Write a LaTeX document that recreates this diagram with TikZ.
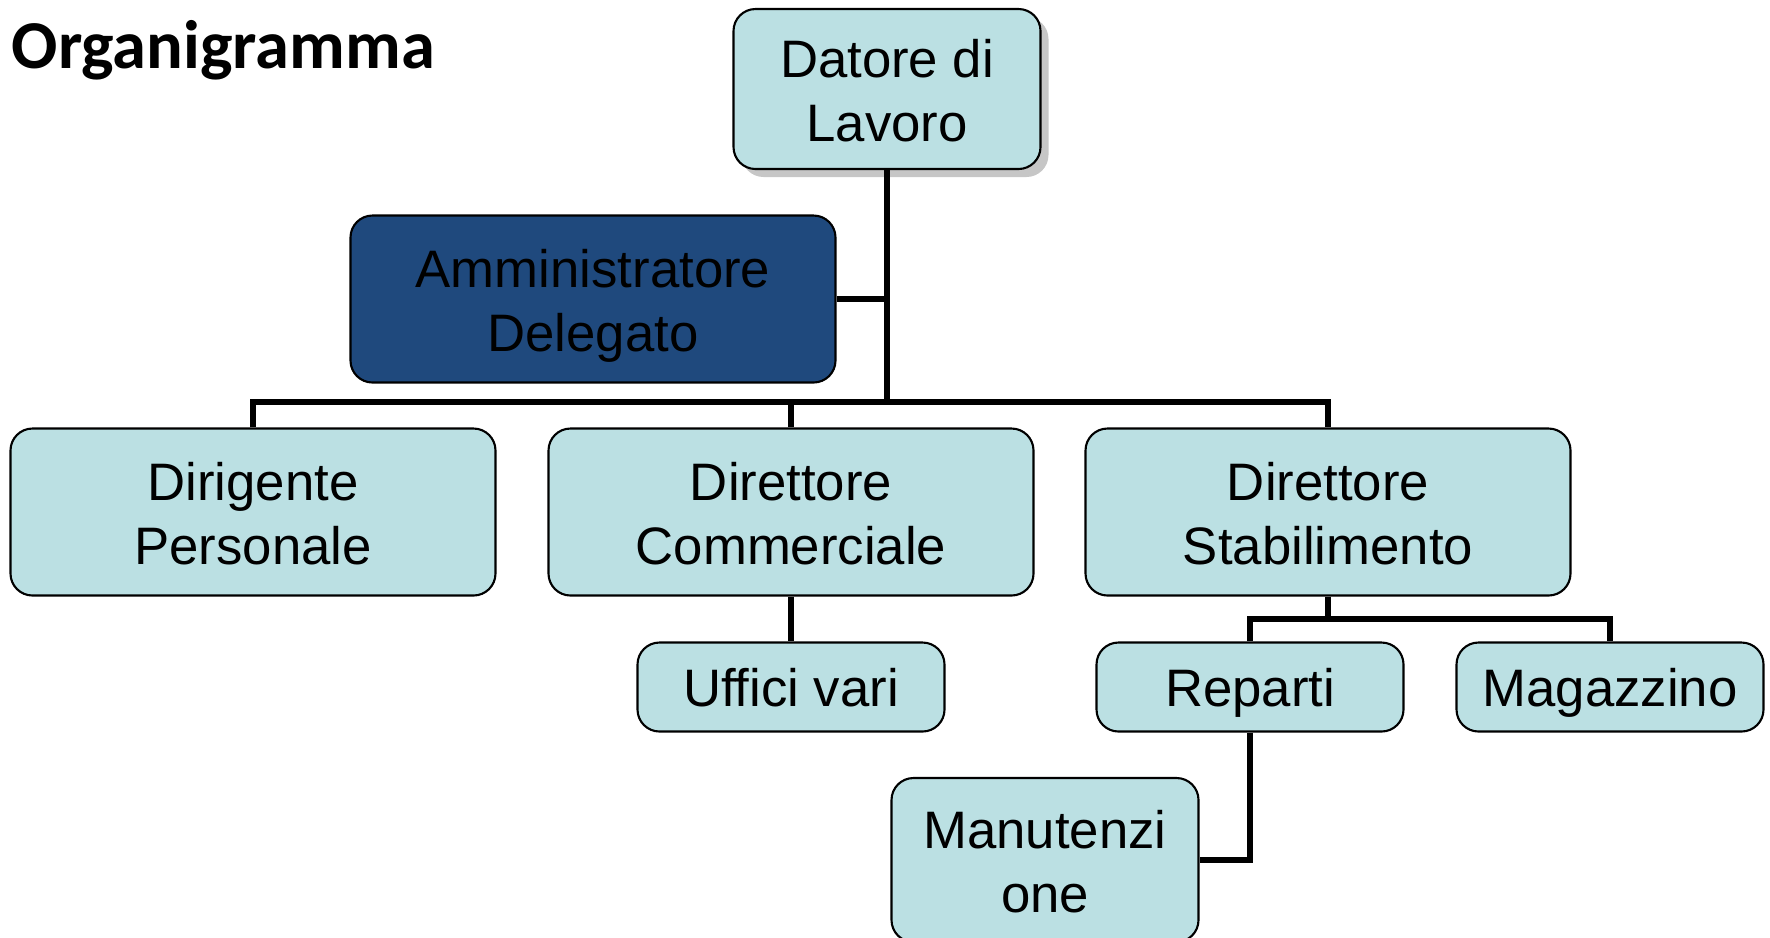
\documentclass[tikz,border=0pt]{standalone}
\usepackage{fontspec}
\setmainfont{Liberation Sans}
\newfontfamily\titlefont{Carlito}
\usepackage{tikz}
\usetikzlibrary{positioning,shadows}
\usepackage{xcolor}
\definecolor{BoxTeal}{HTML}{BBE0E3}
\definecolor{BoxNavy}{HTML}{1F497D}
\definecolor{LineBlack}{HTML}{000000}

\begin{document}
\begin{tikzpicture}[
        box/.style={draw=LineBlack,line width=0.6pt,rounded corners=2.2mm,fill=BoxTeal,
                    minimum height=1.67cm,minimum width=4.85cm,align=center,
                    inner sep=0pt,text height=1.04cm,text depth=0cm,
                    font=\fontsize{15}{18.2}\selectfont},
        tallbox/.style={box,minimum width=3.07cm,minimum height=1.6cm},
        smallbox/.style={box,minimum width=3.07cm,minimum height=0.89cm,text height=0.39cm},
        navy/.style={box,fill=BoxNavy},
        link/.style={draw=LineBlack,line width=1.8pt}]
      \useasboundingbox (0,0) rectangle (17.70,-9.37);
      \node[anchor=base west,inner sep=0pt,font=\titlefont\bfseries\fontsize{19.5}{22}\selectfont]
            (title) at (0.11,-0.68) {Organigramma};
      % top of the chart
      \node[tallbox,drop shadow={opacity=0.45,shadow xshift=0.08cm,shadow yshift=-0.08cm}]
            (datore) at (8.87,-0.89) {Datore di\\Lavoro};
      \node[navy] (amm) at (5.93,-2.99) {Amministratore\\Delegato};
      % second level
      \node[box] (dirigente)   at ( 2.53,-5.12) {Dirigente\\Personale};
      \node[box] (commerciale) at ( 7.91,-5.12) {Direttore\\Commerciale};
      \node[box] (stabil)      at (13.28,-5.12) {Direttore\\Stabilimento};
      % third level
      \node[smallbox] (uffici)    at ( 7.91,-6.87) {Uffici vari};
      \node[smallbox] (reparti)   at (12.50,-6.87) {Reparti};
      \node[smallbox] (magazzino) at (16.10,-6.87) {Magazzino};
      \node[tallbox,minimum height=1.64cm] (manut) at (10.45,-8.60) {Manutenzi\\one};
      \coordinate (bar)     at (8.87,-4.02);
      \coordinate (stabbar) at (13.28,-6.19);
      \draw[link] (datore.south) -- (bar);
      \draw[link] (amm.east) -- (amm.east -| datore.south);
      \draw[link] (dirigente.north) |- (bar) -| (stabil.north);
      \draw[link] (commerciale.north) -- (commerciale.north |- bar);
      \draw[link] (commerciale) -- (uffici);
      \draw[link] (stabil.south) -- (stabbar);
      \draw[link] (reparti.north) |- (stabbar) -| (magazzino.north);
      \draw[link] (reparti.south) |- (manut.east);
    \end{tikzpicture}
\end{document}
